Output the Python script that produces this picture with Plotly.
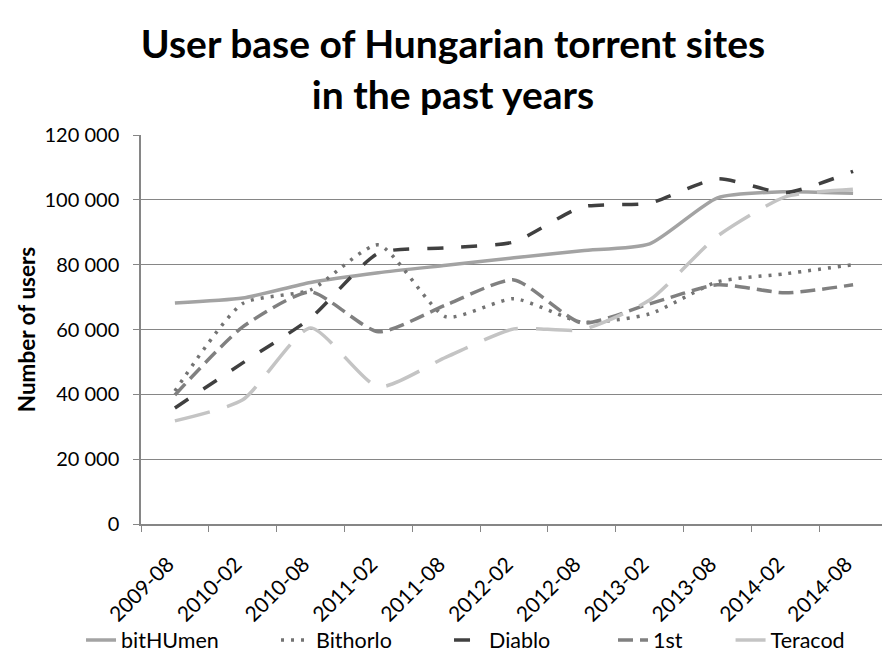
import plotly.graph_objects as go

categories = ["2009-08", "2010-02", "2010-08", "2011-02", "2011-08", "2012-02",
              "2012-08", "2013-02", "2013-08", "2014-02", "2014-08"]

bithumen = [68200, 69700, 74500, 77500, 79800, 82100, 84300, 86400, 100600, 102500, 102000]
bithorlo = [41000, 68000, 72200, 86100, 63900, 69500, 62300, 64800, 74700, 77200, 80000]
diablo   = [35800, 49700, 63500, 83500, 85200, 87000, 97800, 99000, 106500, 102200, 108800]
first    = [39800, 60800, 71600, 59300, 67600, 75300, 62000, 67900, 73800, 71300, 73800]
teracod  = [31800, 38300, 60500, 42300, 51500, 60200, 59900, 69100, 88800, 100900, 103300]

y_ticks = [0, 20000, 40000, 60000, 80000, 100000, 120000]

series_names = ["bitHUmen", "Bithorlo", "Diablo", "1st", "Teracod"]
series_values = [bithumen, bithorlo, diablo, first, teracod]
series_colors = ["#a3a3a3", "#737373", "#404040", "#808080", "#c4c4c4"]
series_dash = ["solid", "3px,7px", "16px,18px", "15px,7px", "36px,18px"]
# legend placement (paper x) for each entry
legend_x = [-0.0804, 0.181, 0.4129, 0.6327, 0.7903]

FONT = "Lato, 'Open Sans', sans-serif"

fig = go.Figure()
layout_legends = {}
for i, (name, vals, color, dash) in enumerate(zip(series_names, series_values, series_colors, series_dash)):
    key = "legend" if i == 0 else f"legend{i+1}"
    fig.add_trace(go.Scatter(
        x=categories, y=vals, name=name, mode="lines", legend=key,
        line=dict(color=color, width=3.5, dash=dash, shape="spline", smoothing=0.6),
    ))
    layout_legends[key] = dict(
        x=legend_x[i], xanchor="left", y=-0.298, yanchor="middle",
        orientation="h", font=dict(family=FONT, size=21.5, color="black"),
        bgcolor="rgba(0,0,0,0)", borderwidth=0,
    )

fig.update_layout(
    width=890, height=660,
    paper_bgcolor="white", plot_bgcolor="white",
    separators=", ",
    font=dict(family=FONT, size=20, color="black"),
    margin=dict(l=133, r=11, t=127, b=144, autoexpand=False),
    title=dict(
        text="<b>User base of Hungarian torrent sites<br>in the past years</b>",
        x=0.5, xanchor="center", yref="container", y=0.924, yanchor="middle",
        font=dict(family=FONT, size=39, color="black"),
    ),
    showlegend=True,
    xaxis=dict(
        type="category", categoryorder="array", categoryarray=categories,
        range=[-0.5, len(categories) - 0.5], automargin=False,
        tickson="boundaries", ticks="outside", ticklen=6, tickcolor="#868686",
        showline=True, linecolor="#868686", linewidth=1.5,
        showgrid=False, tickangle=-45, ticklabelstandoff=18, ticklabelshift=-7,
        tickfont=dict(family=FONT, size=21, color="black"),
    ),
    yaxis=dict(
        range=[0, 120000], tickvals=y_ticks, tickformat=",d", automargin=False,
        ticks="outside", ticklen=6, tickcolor="#868686", ticklabelstandoff=10,
        showline=True, linecolor="#868686", linewidth=1.5,
        showgrid=True, gridcolor="#868686", gridwidth=1.2,
        zeroline=False,
        tickfont=dict(family=FONT, size=20, color="black"),
        title=dict(text="<b>Number of users</b>", standoff=3,
                   font=dict(family=FONT, size=22.5, color="black")),
    ),
    **layout_legends,
)

fig.write_html("out.html")
